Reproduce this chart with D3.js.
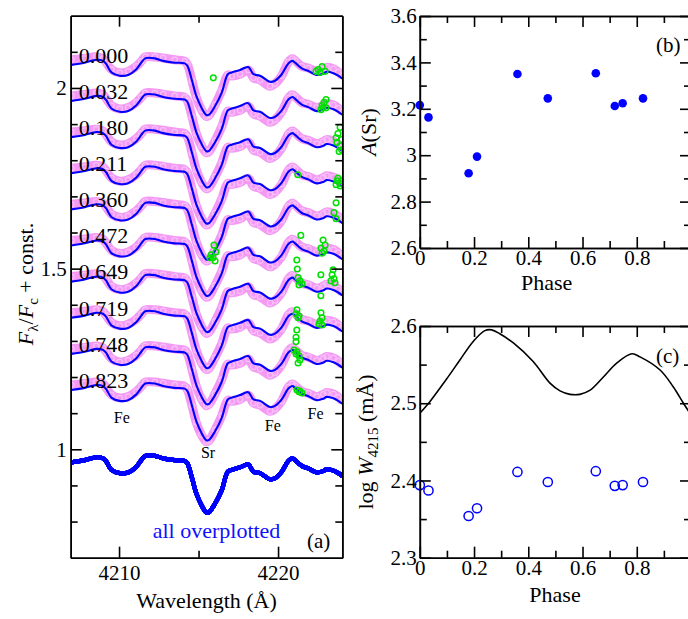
<!DOCTYPE html>
<html>
<head>
<meta charset="utf-8">
<script src="https://cdn.jsdelivr.net/npm/d3@7"></script>
<style>
  body { margin: 0; background: #fff; }
  svg, svg text { font-family: "Liberation Serif", "Times New Roman", Times, serif; }
  .axis path, .axis line { stroke: #000; stroke-width: 1.6; }
  .axis text { font-size: 21px; fill: #000; }
</style>
</head>
<body>
<script>
// ---- data ----
const phases = [0.000, 0.032, 0.180, 0.211, 0.360, 0.472, 0.649, 0.719, 0.748, 0.823];
const phaseLabels = ['0.000', '0.032', '0.180', '0.211', '0.360', '0.472', '0.649', '0.719', '0.748', '0.823'];
const specOffset = [1.1, 1.0, 0.9, 0.8, 0.7, 0.6, 0.5, 0.4, 0.3, 0.2];

// model spectrum (normalised flux) around Sr II 4215
const modelWave = [4207.00, 4207.84, 4208.57, 4208.99, 4209.20, 4209.52, 4210.04, 4210.57, 4211.09, 4211.40,
  4211.65, 4212.25, 4212.77, 4213.50, 4214.13, 4214.30, 4214.59, 4214.86, 4215.18, 4215.49,
  4215.66, 4216.04, 4216.46, 4216.84, 4217.09, 4217.61, 4218.13, 4218.45, 4218.87, 4219.50,
  4219.81, 4220.23, 4220.65, 4220.90, 4221.07, 4221.49, 4221.91, 4222.43, 4222.85, 4223.06,
  4223.48, 4223.79, 4224.04];
const modelFlux = [0.964, 0.970, 0.978, 0.975, 0.966, 0.943, 0.934, 0.936, 0.952, 0.970,
  0.982, 0.982, 0.975, 0.970, 0.968, 0.961, 0.920, 0.878, 0.846, 0.825,
  0.826, 0.850, 0.887, 0.938, 0.943, 0.950, 0.958, 0.938, 0.934, 0.917,
  0.920, 0.938, 0.968, 0.975, 0.970, 0.954, 0.947, 0.936, 0.940, 0.945,
  0.941, 0.934, 0.926];
// observed minus model, roughly
const obsResid = [0.014, 0.012, 0.008, 0.006, 0.004, 0.008, 0.008, 0.010, 0.008, 0.004,
  0.004, 0.004, 0.008, 0.008, 0.006, 0.004, 0.000, -0.004, -0.006, -0.004,
  -0.002, 0.004, 0.006, -0.002, -0.010, -0.012, -0.008, -0.010, -0.012, -0.012,
  -0.008, -0.004, 0.004, 0.006, 0.006, 0.006, 0.008, 0.010, 0.012, 0.012,
  0.012, 0.010, 0.008];

// rejected pixels (wavelength, plotted flux)
const rejected = [
  [4215.93, 2.028], [4222.52, 2.051], [4222.77, 2.059], [4222.96, 2.046], [4222.64, 2.043], [4222.39, 2.046],
  [4222.77, 1.951], [4222.89, 1.960], [4223.02, 1.968], [4222.83, 1.945], [4223.02, 1.945], [4222.70, 1.940],
  [4223.90, 1.891], [4223.77, 1.874], [4224.00, 1.857], [4223.71, 1.849], [4223.90, 1.840], [4224.00, 1.829], [4223.84, 1.824], [4223.65, 1.862],
  [4221.24, 1.760], [4223.77, 1.751], [4224.00, 1.743], [4223.65, 1.732], [4223.90, 1.729], [4224.00, 1.735], [4223.71, 1.743],
  [4223.65, 1.682], [4223.52, 1.655], [4223.65, 1.638],
  [4215.97, 1.565], [4216.10, 1.546], [4215.79, 1.538], [4215.91, 1.530], [4216.04, 1.521], [4215.72, 1.530],
  [4221.43, 1.592], [4222.83, 1.579], [4222.96, 1.565], [4222.70, 1.557], [4222.89, 1.549], [4222.77, 1.543],
  [4221.18, 1.524], [4221.21, 1.499], [4221.26, 1.475], [4221.38, 1.466], [4221.51, 1.458], [4221.32, 1.455],
  [4222.69, 1.483], [4223.46, 1.497], [4223.40, 1.483], [4223.52, 1.472], [4223.33, 1.466], [4223.58, 1.461], [4222.69, 1.425],
  [4221.19, 1.386], [4221.13, 1.375], [4221.32, 1.369], [4221.26, 1.364],
  [4222.70, 1.378], [4222.77, 1.364], [4222.64, 1.355], [4222.58, 1.347], [4222.77, 1.344],
  [4221.18, 1.330], [4221.13, 1.310], [4221.13, 1.298], [4221.01, 1.275], [4221.19, 1.270], [4221.32, 1.258], [4221.38, 1.247], [4221.26, 1.239], [4221.13, 1.264],
  [4221.19, 1.164], [4221.38, 1.161], [4221.51, 1.156], [4221.32, 1.159]
];

const lineIds = [
  { name: 'Fe', wave: 4210.17, flux: 1.074 },
  { name: 'Sr', wave: 4215.60, flux: 0.975 },
  { name: 'Fe', wave: 4219.67, flux: 1.050 },
  { name: 'Fe', wave: 4222.36, flux: 1.083 }
];

// panel (b) and (c)
const abundSr = [3.216, 3.163, 2.922, 2.994, 3.350, 3.245, 3.353, 3.212, 3.224, 3.245];
const logW = [2.394, 2.387, 2.354, 2.364, 2.411, 2.398, 2.412, 2.393, 2.394, 2.398];
const curvePhase = [0, 0.037, 0.098, 0.148, 0.197, 0.24, 0.265, 0.295, 0.345, 0.418, 0.48, 0.517,
  0.554, 0.59, 0.628, 0.677, 0.726, 0.782, 0.812, 0.886, 0.935, 0.972, 1.0];
const curveLogW = [2.487, 2.502, 2.531, 2.556, 2.580, 2.594, 2.595, 2.590, 2.578, 2.554, 2.526, 2.516,
  2.5115, 2.5115, 2.517, 2.534, 2.552, 2.564, 2.560, 2.543, 2.521, 2.500, 2.485];

// tick values
const aXMajor = [4210, 4220], aXMinor = [4215];
const aYMajor = [1, 1.5, 2], aYMinor = [0.8, 0.9, 1.1, 1.2, 1.3, 1.4, 1.6, 1.7, 1.8, 1.9, 2.1];
const phMajor = [0, 0.2, 0.4, 0.6, 0.8, 1], phMinor = [0.1, 0.3, 0.5, 0.7, 0.9];
const bYMajor = [2.6, 2.8, 3, 3.2, 3.4, 3.6], bYMinor = [2.7, 2.9, 3.1, 3.3, 3.5];
const cYMajor = [2.3, 2.4, 2.5, 2.6], cYMinor = [2.35, 2.45, 2.55];

// ---- drawing ----
const svg = d3.select('body').append('svg').attr('width', 688).attr('height', 619)
  .attr('font-family', '"Liberation Serif", serif');

const xA = d3.scaleLinear().domain([4206.96, 4224.04]).range([70.7, 342.3]);
const yA = d3.scaleLinear().domain([0.7, 2.2]).range([557.7, 15.7]);
const xB = d3.scaleLinear().domain([0, 1]).range([419.8, 691]);
const yB = d3.scaleLinear().domain([2.6, 3.6]).range([248, 16]);
const yC = d3.scaleLinear().domain([2.3, 2.6]).range([557.7, 326]);

const num = d => String(+d.toFixed(2));

function frame(x, y, o) {
  const g = svg.append('g').attr('class', 'axis');
  const [x0, x1] = x.range(), [y0, y1] = y.range();
  const add = (axis, t) => g.append('g').attr('transform', t).call(axis.tickSizeOuter(0))
    .attr('font-size', null).attr('font-family', null);
  add(d3.axisBottom(x).tickValues(o.xMajor).tickSize(-11).tickPadding(o.xPad).tickFormat(num), `translate(0,${y0})`);
  add(d3.axisBottom(x).tickValues(o.xMinor).tickSize(-7).tickFormat(''), `translate(0,${y0})`);
  add(d3.axisTop(x).tickValues(o.xMajor).tickSize(-11).tickFormat(''), `translate(0,${y1})`);
  add(d3.axisTop(x).tickValues(o.xMinor).tickSize(-7).tickFormat(''), `translate(0,${y1})`);
  add(d3.axisLeft(y).tickValues(o.yMajor).tickSize(-11).tickPadding(o.yPad).tickFormat(num), `translate(${x0},0)`);
  add(d3.axisLeft(y).tickValues(o.yMinor).tickSize(-7).tickFormat(''), `translate(${x0},0)`);
  add(d3.axisRight(y).tickValues(o.yMajor).tickSize(-11).tickFormat(''), `translate(${x1},0)`);
  add(d3.axisRight(y).tickValues(o.yMinor).tickSize(-7).tickFormat(''), `translate(${x1},0)`);
  return g;
}

// panel (a)
svg.append('clipPath').attr('id', 'clipA').append('rect')
  .attr('x', xA.range()[0]).attr('y', yA.range()[1])
  .attr('width', xA.range()[1] - xA.range()[0]).attr('height', yA.range()[0] - yA.range()[1]);
const gA = svg.append('g').attr('clip-path', 'url(#clipA)');

const specLine = d3.line().x(d => xA(d[0])).y(d => yA(d[1])).curve(d3.curveCatmullRom);

phases.forEach((p, i) => {
  const obs = modelWave.map((w, j) => [w, modelFlux[j] + obsResid[j] + specOffset[i]]);
  const mod = modelWave.map((w, j) => [w, modelFlux[j] + specOffset[i]]);
  gA.append('path').attr('d', specLine(obs)).attr('fill', 'none')
    .attr('stroke', '#f288f2').attr('stroke-width', 9).attr('opacity', 0.85);
  gA.selectAll(null).data(obs).enter().append('circle')
    .attr('cx', d => xA(d[0])).attr('cy', d => yA(d[1])).attr('r', 2.7)
    .attr('fill', 'none').attr('stroke', '#f8c0f8').attr('stroke-width', 1.2);
  gA.append('path').attr('d', specLine(mod)).attr('fill', 'none')
    .attr('stroke', '#0000ff').attr('stroke-width', 2.1);
});

gA.selectAll(null).data(rejected).enter().append('circle')
  .attr('cx', d => xA(d[0])).attr('cy', d => yA(d[1])).attr('r', 2.8)
  .attr('fill', 'none').attr('stroke', '#00e000').attr('stroke-width', 1.5);

// all overplotted
phases.forEach(() => {
  gA.append('path').attr('d', specLine(modelWave.map((w, j) => [w, modelFlux[j]])))
    .attr('fill', 'none').attr('stroke', '#0000ff').attr('stroke-width', 4.2);
});

phases.forEach((p, i) => {
  svg.append('text').attr('x', xA.range()[0] + 8).attr('y', yA(specOffset[i] + 0.97))
    .attr('font-size', 22).text(phaseLabels[i]);
});

svg.selectAll(null).data(lineIds).enter().append('text')
  .attr('x', d => xA(d.wave)).attr('y', d => yA(d.flux))
  .attr('text-anchor', 'middle').attr('font-size', 16).text(d => d.name);

svg.append('text').attr('x', 152.7).attr('y', 538.3).attr('font-size', 22)
  .attr('fill', '#1010ff').text('all overplotted');
svg.append('text').attr('x', 307).attr('y', 548).attr('font-size', 21).text('(a)');

frame(xA, yA, { xMajor: aXMajor, xMinor: aXMinor, yMajor: aYMajor, yMinor: aYMinor, xPad: 7, yPad: 4 });

svg.append('text').attr('x', 206.5).attr('y', 608.3).attr('text-anchor', 'middle')
  .attr('font-size', 22).text('Wavelength (Å)');

const tA = svg.append('text').attr('transform', 'translate(33,284) rotate(-90)')
  .attr('text-anchor', 'middle').attr('font-size', 22);
tA.append('tspan').attr('font-style', 'italic').text('F');
tA.append('tspan').attr('font-size', 15).attr('dy', 5).text('λ');
tA.append('tspan').attr('dy', -5).text('/');
tA.append('tspan').attr('font-style', 'italic').text('F');
tA.append('tspan').attr('font-size', 15).attr('dy', 5).text('c');
tA.append('tspan').attr('dy', -5).text(' + const.');

// panel (b)
svg.selectAll(null).data(phases).enter().append('circle')
  .attr('cx', d => xB(d)).attr('cy', (d, i) => yB(abundSr[i])).attr('r', 4.3)
  .attr('fill', '#0000ff');
frame(xB, yB, { xMajor: phMajor, xMinor: phMinor, yMajor: bYMajor, yMinor: bYMinor, xPad: 2, yPad: 3 });
svg.append('text').attr('x', 656).attr('y', 52).attr('font-size', 21).text('(b)');
svg.append('text').attr('x', 546.7).attr('y', 290).attr('text-anchor', 'middle')
  .attr('font-size', 22).text('Phase');
const tB = svg.append('text').attr('transform', 'translate(376,132) rotate(-90)')
  .attr('text-anchor', 'middle').attr('font-size', 22);
tB.append('tspan').attr('font-style', 'italic').text('A');
tB.append('tspan').text('(Sr)');

// panel (c)
svg.append('clipPath').attr('id', 'clipC').append('rect')
  .attr('x', xB.range()[0]).attr('y', yC.range()[1])
  .attr('width', xB.range()[1] - xB.range()[0]).attr('height', yC.range()[0] - yC.range()[1]);
svg.append('path').attr('clip-path', 'url(#clipC)')
  .attr('d', d3.line().x((d, i) => xB(d)).y((d, i) => yC(curveLogW[i])).curve(d3.curveCatmullRom)(curvePhase))
  .attr('fill', 'none').attr('stroke', '#000').attr('stroke-width', 1.6);
svg.selectAll(null).data(phases).enter().append('circle')
  .attr('cx', d => xB(d)).attr('cy', (d, i) => yC(logW[i])).attr('r', 4.6)
  .attr('fill', 'none').attr('stroke', '#0000ff').attr('stroke-width', 1.5);
frame(xB, yC, { xMajor: phMajor, xMinor: phMinor, yMajor: cYMajor, yMinor: cYMinor, xPad: 2, yPad: 3 });
svg.append('text').attr('x', 656).attr('y', 363).attr('font-size', 21).text('(c)');
svg.append('text').attr('x', 555).attr('y', 602).attr('text-anchor', 'middle')
  .attr('font-size', 22).text('Phase');
const tC = svg.append('text').attr('transform', 'translate(373,442) rotate(-90)')
  .attr('text-anchor', 'middle').attr('font-size', 22);
tC.append('tspan').text('log ');
tC.append('tspan').attr('font-style', 'italic').text('W');
tC.append('tspan').attr('font-size', 15).attr('dy', 5).text('4215');
tC.append('tspan').attr('dy', -5).text(' (mÅ)');
</script>
</body>
</html>
